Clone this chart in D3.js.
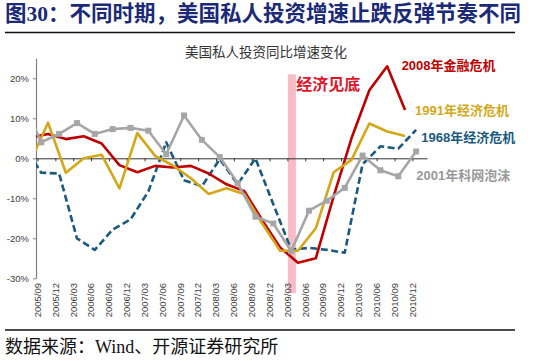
<!DOCTYPE html>
<html><head><meta charset="utf-8">
<script src="https://cdn.jsdelivr.net/npm/d3@7"></script>
<style>
html,body{margin:0;padding:0;background:#fff;}
svg{display:block;}
</style></head>
<body>
<svg id="c" width="550" height="361"></svg>
<script>
// ---------------- data ----------------
const categories = ["2005/09","2005/12","2006/03","2006/06","2006/09","2006/12","2007/03","2007/06","2007/09","2007/12",
  "2008/03","2008/06","2008/09","2008/12","2009/03","2009/06","2009/09","2009/12","2010/03","2010/06","2010/09","2010/12"];
const yTicks = [-30,-20,-10,0,10,20];
const seriesNames = ["2008年金融危机","1991年经济危机","1968年经济危机","2001年科网泡沫"];
// quarterly values (%) ; first value is the point just before the left edge (clipped)
const crisis2008 = [5.2,6.1,4.8,5.5,3.7,-1.7,-3.5,-1.9,-2.3,-1.9,-3.8,-6.5,-8.2,-15.5,-22.3,-26.1,-25.0,-9.5,5.0,17.0,23.0,12.1];
const crisis1991 = [-0.9,8.9,-3.6,0.0,0.9,-7.5,6.3,0.6,-1.8,-5.0,-8.9,-7.5,-9.0,-16.3,-23.1,-23.1,-17.5,-3.5,-0.4,8.7,6.7,5.6];
const crisis1968 = [3.5,-3.6,-3.8,-20.0,-22.9,-17.8,-15.3,-8.3,4.0,-5.5,-7.0,-0.2,-6.5,0.0,-11.5,-22.8,-22.4,-22.9,-23.6,-1.5,3.0,2.4,7.1];
const crisis2001 = [14.0,4.0,6.1,8.8,6.1,7.3,7.6,6.9,1.0,10.7,4.6,0.3,-6.2,-14.6,-16.3,-23.2,-13.1,-10.6,-7.4,0.7,-3.0,-4.5,1.7];
// timing offset of each series relative to the category ticks (in quarters)
const seriesPhase = [0.59,0.59,0.21,0.21];
const bottomQuarter = 14.25;   // "经济见底"

// ---------------- layout ----------------
const svg = d3.select("#c");
const x = d3.scaleLinear().domain([-0.084, 21.82]).range([36, 427]);
const y = d3.scaleLinear().domain([-30, 25]).range([278.3, 58.3]);

const colors = ["#C00000","#D4A718","#1B5A7E","#A6A6A6"];
const labelColors = ["#C00000","#D4A718","#1B5A7E","#999999"];

// title block
svg.append("text").attr("x",5).attr("y",21)
  .attr("font-family","'Liberation Serif','Noto Sans CJK SC'").attr("font-weight","bold")
  .attr("font-size",21.5).attr("fill","#1B2A78")
  .text("图30：不同时期，美国私人投资增速止跌反弹节奏不同");
svg.append("line").attr("x1",5).attr("x2",515).attr("y1",32.5).attr("y2",32.5)
  .attr("stroke","#111").attr("stroke-width",1.5);
svg.append("line").attr("x1",5).attr("x2",515).attr("y1",330).attr("y2",330)
  .attr("stroke","#111").attr("stroke-width",1.5);
svg.append("text").attr("x",5).attr("y",353)
  .attr("font-family","'Liberation Serif','Noto Sans CJK SC'")
  .attr("font-size",18).attr("fill","#111")
  .text("数据来源：Wind、开源证券研究所");

// chart title
svg.append("text").attr("x",266).attr("y",57).attr("text-anchor","middle")
  .attr("font-family","'Noto Sans CJK SC'").attr("font-size",13.5).attr("fill","#333")
  .text("美国私人投资同比增速变化");

// pink band
svg.append("rect")
  .attr("x", x(bottomQuarter - 0.225)).attr("width", x(bottomQuarter + 0.225) - x(bottomQuarter - 0.225))
  .attr("y", y(21)).attr("height", y(-33.7) - y(21))
  .attr("fill","#F7BCC6");

// y axis
const gy = svg.append("g").attr("transform","translate(36,0)")
  .call(d3.axisLeft(y).tickValues(yTicks).tickFormat(d=>d+"%").tickSize(3).tickSizeOuter(0));
gy.select(".domain").attr("stroke","#808080").attr("stroke-width",1.2);
gy.selectAll(".tick line").attr("stroke","#808080");
gy.selectAll(".tick text").attr("font-family","'Liberation Sans',Arial").attr("font-size",9.5)
  .attr("fill","#404040").attr("x",-7);

// x axis at 0
const gx = svg.append("g").attr("transform",`translate(0,${y(0)})`)
  .call(d3.axisBottom(x).tickValues(d3.range(categories.length)).tickFormat("").tickSize(3).tickSizeOuter(0));
gx.select(".domain").attr("stroke","#333").attr("stroke-width",1);
gx.selectAll(".tick line").attr("stroke","#333");

// category labels
svg.append("g").selectAll("text").data(categories).join("text")
  .attr("transform",(d,i)=>`translate(${x(i)},283) rotate(-90)`)
  .attr("text-anchor","end").attr("dy","0.35em")
  .attr("font-family","'Liberation Sans',Arial").attr("font-size",9.5).attr("fill","#404040")
  .text(d=>d);

// clip
svg.append("clipPath").attr("id","plot").append("rect")
  .attr("x",x.range()[0]).attr("y",y.range()[1]).attr("width",x.range()[1]-x.range()[0]+10)
  .attr("height",y.range()[0]-y.range()[1]);

const all = [crisis2008, crisis1991, crisis1968, crisis2001];
const pts = all.map((arr,s)=>arr.map((v,j)=>({t:(j-1)+seriesPhase[s], v})));
const line = d3.line().x(d=>x(d.t)).y(d=>y(d.v));
const gl = svg.append("g").attr("clip-path","url(#plot)");
const order = [2,0,1,3];
order.forEach(s=>{
  const p = gl.append("path").datum(pts[s]).attr("d",line).attr("fill","none")
    .attr("stroke",colors[s]).attr("stroke-width",2.6).attr("stroke-linejoin","round");
  if (s===2) p.attr("stroke-dasharray","7,3.5");
  if (s===3) {
    gl.selectAll(".mk").data(pts[s]).join("rect")
      .attr("x",d=>x(d.t)-3).attr("y",d=>y(d.v)-3).attr("width",6).attr("height",6)
      .attr("fill",colors[3]);
  }
});

// series labels
const labelPos = [[20.4,22.1],[21.15,10.8],[21.5,4.2],[21.22,-5.4]];
seriesNames.forEach((n,s)=>{
  svg.append("text").attr("x",x(labelPos[s][0])).attr("y",y(labelPos[s][1]))
    .attr("font-family","'Liberation Sans','Noto Sans CJK SC'").attr("font-weight","bold")
    .attr("font-size",13).attr("fill",labelColors[s]).text(n);
});
svg.append("text").attr("x",x(bottomQuarter)+4.5).attr("y",y(17))
  .attr("font-family","'Noto Sans CJK SC'").attr("font-weight","bold")
  .attr("font-size",16).attr("fill","#E0142A").text("经济见底");
</script>
</body></html>
